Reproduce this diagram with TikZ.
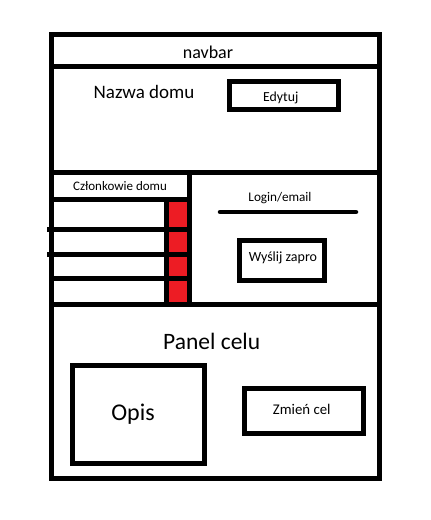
\documentclass[tikz,border=0pt]{standalone}
\usepackage{fontspec}
\setmainfont{Carlito}
\definecolor{memred}{RGB}{237,28,36}
\begin{document}
\begin{tikzpicture}[x=1pt,y=-1pt,
  wall/.style={line width=5pt},
  boxnode/.style={draw,line width=5pt,inner sep=0pt,minimum width=#1},
  txt/.style={anchor=base,inner sep=0pt,text=black}]
\useasboundingbox (0,0) rectangle (431,520);
% outer frame and dividers
\draw[wall] (51.5,34.5) rectangle (379,478.5);
\draw[wall] (51.5,66.5) -- (379,66.5);
\draw[wall] (51.5,172) -- (379,172);
\draw[wall] (51.5,304) -- (379,304);
\draw[wall] (189,172) -- (189,304);
\draw[wall] (51.5,199) -- (189,199);
% red column
\fill[memred] (168.5,201.5) rectangle (186.5,301.5);
\draw[wall] (166,199) -- (166,304);
% member rows
\draw[wall] (47,229) -- (189,229);
\draw[wall] (47,254.5) -- (189,254.5);
\draw[wall] (51.5,278.5) -- (189,278.5);
% boxes
\node[boxnode=109pt,minimum height=28pt] (edytuj) at (284,95.5) {};
\node[boxnode=84.4pt,minimum height=40pt] (wyslij) at (282,260.8) {};
\node[boxnode=131.5pt,minimum height=98pt] (opis) at (138.3,414) {};
\node[boxnode=118.6pt,minimum height=45pt] (zmien) at (304,411) {};
% login line
\coordinate (loginL) at (220,212);
\coordinate (loginR) at (356,212);
\draw[line width=4.5pt,line cap=round] (loginL) -- (loginR);
% texts
\node[txt,font=\fontsize{18}{20}\selectfont] (navbar) at (208,58.3) {navbar};
\node[txt,font=\fontsize{19}{21}\selectfont] (nazwa) at (144,98.3) {Nazwa domu};
\node[txt,font=\fontsize{13.8}{15}\selectfont] (edytujt) at (280.7,101) {Edytuj};
\node[txt,font=\fontsize{13}{15}\selectfont] (czlonk) at (120,190) {Członkowie domu};
\node[txt,font=\fontsize{13.2}{15}\selectfont] (login) at (280,201.7) {Login/email};
\node[txt,font=\fontsize{14}{16}\selectfont] (wyslijt) at (283,261.7) {Wyślij zapro};
\node[txt,font=\fontsize{23.5}{26}\selectfont] (panel) at (211.7,349.3) {Panel celu};
\node[txt,font=\fontsize{24}{26}\selectfont] (opist) at (133,420) {Opis};
\node[txt,font=\fontsize{14.8}{16}\selectfont] (zmient) at (301.7,414.3) {Zmień cel};
\end{tikzpicture}
\end{document}
